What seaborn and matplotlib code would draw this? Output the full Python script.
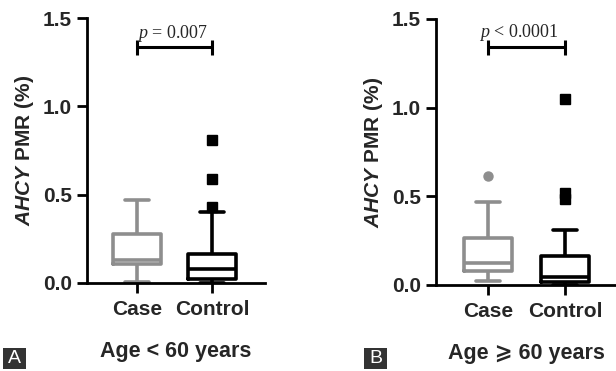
import matplotlib
matplotlib.use("Agg")
import matplotlib.pyplot as plt
import seaborn as sns
import pandas as pd
from matplotlib.patches import Rectangle
from matplotlib.ticker import FormatStrFormatter

# ---------------- data ----------------
categories = ["Case", "Control"]
case_lt60 = [0.005, 0.11, 0.13, 0.28, 0.47]
control_lt60 = [0.0, 0.003, 0.006, 0.01, 0.02, 0.03, 0.045, 0.06, 0.08,
                0.10, 0.12, 0.14, 0.165, 0.40, 0.43, 0.59, 0.81]
case_ge60 = [0.02, 0.05, 0.08, 0.10, 0.125, 0.20, 0.267, 0.47, 0.615]
control_ge60 = [0.0, 0.002, 0.005, 0.01, 0.015, 0.02, 0.03, 0.04, 0.045,
                0.07, 0.10, 0.13, 0.165, 0.31, 0.485, 0.52, 1.05]
p_labels = [r"$\mathit{p}$ = 0.007", r"$\mathit{p}$ < 0.0001"]
x_titles = ["Age < 60 years", "Age \u2A7E 60 years"]
panel_letters = ["A", "B"]
y_ticks = [0.0, 0.5, 1.0, 1.5]
y_title = r"$\mathbfit{AHCY}$ PMR (%)"

# ---------------- style ----------------
sns.set_style("ticks")
plt.rcParams["font.family"] = ["Liberation Sans", "DejaVu Sans"]
plt.rcParams["mathtext.fontset"] = "custom"
plt.rcParams["mathtext.rm"] = "Liberation Serif"
plt.rcParams["mathtext.it"] = "Liberation Serif:italic"
plt.rcParams["mathtext.bfit"] = "Liberation Sans:italic:bold"
plt.rcParams["mathtext.bf"] = "Liberation Sans:bold"

GRAY = "#8e8e8e"
BLACK = "#000000"

fig = plt.figure(figsize=(6.16, 3.71), dpi=100)
W, H = 616, 371
axA = fig.add_axes([87 / W, 1 - 283 / H, 178 / W, 265 / H])
axB = fig.add_axes([436 / W, 1 - 285 / H, 180 / W, 266 / H])


def panel(ax, case_vals, ctrl_vals, xlim, ptext, ptext_x, ptext_y,
          br_y, br_lo, br_hi, xtitle):
    df_case = pd.DataFrame({"group": ["Case"] * len(case_vals), "pmr": case_vals})
    df_ctrl = pd.DataFrame({"group": ["Control"] * len(ctrl_vals), "pmr": ctrl_vals})
    sns.boxplot(data=df_case, x="group", y="pmr", order=categories, color=GRAY,
                fill=False, width=0.63, linewidth=2.6, whis=1.7, ax=ax,
                flierprops=dict(marker="o", markersize=6.5,
                                markerfacecolor=GRAY, markeredgecolor=GRAY))
    sns.boxplot(data=df_ctrl, x="group", y="pmr", order=categories, color=BLACK,
                fill=False, width=0.63, linewidth=2.6, whis=1.7, ax=ax,
                flierprops=dict(marker="s", markersize=6.5,
                                markerfacecolor=BLACK, markeredgecolor=BLACK))
    ax.set_xlim(*xlim)
    ax.set_ylim(0, 1.5)
    ax.set_yticks(y_ticks)
    ax.yaxis.set_major_formatter(FormatStrFormatter("%.1f"))
    for s in ["top", "right"]:
        ax.spines[s].set_visible(False)
    for s in ["left", "bottom"]:
        ax.spines[s].set_linewidth(2.0)
        ax.spines[s].set_color("black")
    ax.tick_params(axis="both", direction="out", length=7, width=2.0,
                   color="black", labelsize=15, pad=4)
    ax.tick_params(axis="x", pad=5)
    for lab in ax.get_xticklabels() + ax.get_yticklabels():
        lab.set_fontweight("bold")
    ax.set_ylabel(y_title, fontsize=15, fontweight="bold", labelpad=5)
    ax.set_xlabel(xtitle, fontsize=15.5, fontweight="bold", labelpad=16)
    # significance bracket
    ax.hlines(br_y, 0, 1, color="black", lw=2.2, clip_on=False)
    ax.vlines([0, 1], br_lo, br_hi, color="black", lw=2.2, clip_on=False)
    ax.text(ptext_x, ptext_y, ptext, ha="center", va="baseline", fontsize=13,
            family="Liberation Serif", clip_on=False)


panel(axA, case_lt60, control_lt60, (-0.667, 1.707), p_labels[0], 0.48, 1.385,
      1.335, 1.29, 1.375, x_titles[0])
panel(axB, case_ge60, control_ge60, (-0.675, 1.662), p_labels[1], 0.40, 1.40,
      1.342, 1.297, 1.382, x_titles[1])

# panel letters
for letter, x0 in zip(panel_letters, [3, 364]):
    fig.add_artist(Rectangle((x0 / W, 1 - 369 / H), 23 / W, 21 / H,
                             transform=fig.transFigure, facecolor="#333333",
                             edgecolor="none"))
    fig.text((x0 + 11.5) / W, 1 - 358.5 / H, letter, color="white", fontsize=14,
             ha="center", va="center")

fig.savefig("out.png", dpi=100)
